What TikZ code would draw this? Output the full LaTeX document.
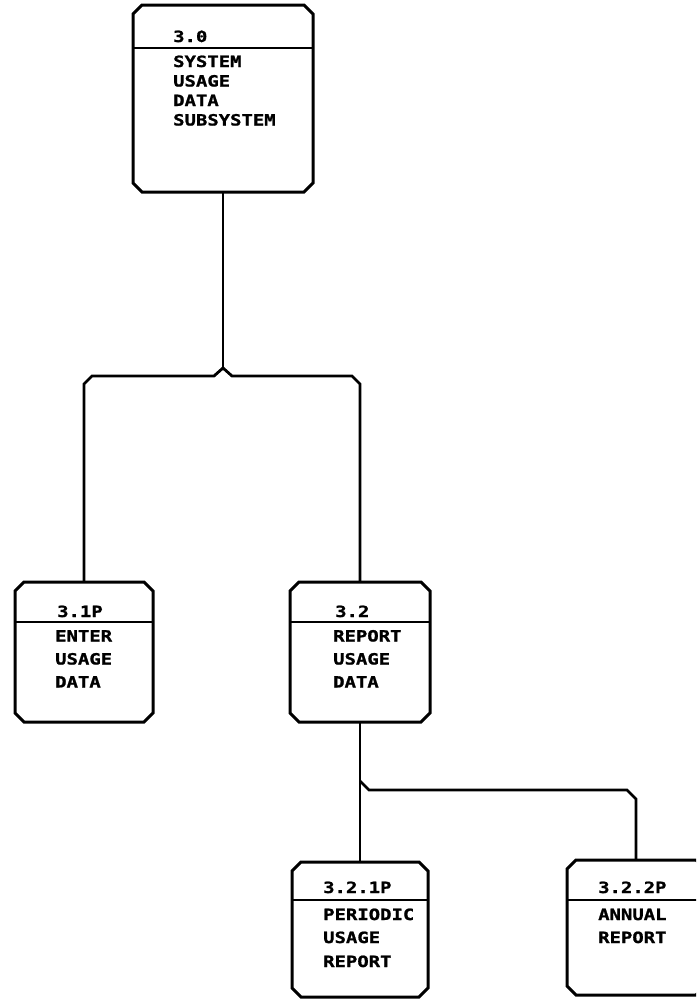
\documentclass[tikz,border=0pt]{standalone}
\usepackage{fontspec}
\newfontfamily\plotfont{DejaVu Sans Mono Bold}[FakeStretch=1.22,FakeBold=1.2]
\tikzset{
  box/.style={rectangle, draw=none, inner sep=0pt, outer sep=0pt},
  outline/.style={line width=3pt, line join=miter},
  lbl/.style={anchor=base west, inner sep=0pt,
    font=\plotfont\fontsize{15.5}{15.5}\selectfont},
  hdr/.style={line width=2.4pt},
  conn/.style={line width=2.8pt, line join=miter}
}
\newcommand\chambox[1]{%
  \draw[outline] ([xshift=9pt]#1.north west) -- ([xshift=-9pt]#1.north east)
    -- ([yshift=-9pt]#1.north east) -- ([yshift=9pt]#1.south east)
    -- ([xshift=-9pt]#1.south east) -- ([xshift=9pt]#1.south west)
    -- ([yshift=9pt]#1.south west) -- ([yshift=-9pt]#1.north west) -- cycle;}
\begin{document}
\begin{tikzpicture}[x=1pt,y=-1pt]
\clip (0,0) rectangle (696,1001);
\fill[white] (0,0) rectangle (696,1001);

% boxes
\node[box, minimum width=180pt, minimum height=187pt] (n30) at (223,98.5) {};
\node[box, minimum width=138pt, minimum height=140pt] (n31) at (84,652) {};
\node[box, minimum width=140pt, minimum height=140pt] (n32) at (360,652) {};
\node[box, minimum width=136pt, minimum height=135pt] (n321) at (360,929.5) {};
\node[box, minimum width=138pt, minimum height=135pt] (n322) at (636,927.5) {};
\chambox{n30}
\chambox{n31}
\chambox{n32}
\chambox{n321}
\chambox{n322}

% header lines
\draw[hdr] (n30.west |- 0,48) -- (n30.east |- 0,48);
\draw[hdr] (n31.west |- 0,622) -- (n31.east |- 0,622);
\draw[hdr] (n32.west |- 0,622) -- (n32.east |- 0,622);
\draw[hdr] (n321.west |- 0,900) -- (n321.east |- 0,900);
\draw[hdr] (n322.west |- 0,900) -- (n322.east |- 0,900);

% texts
\node[lbl] (t30a) at (173,42) {3.0};
\node[lbl] (t30b) at (173,67) {SYSTEM};
\node[lbl] (t30c) at (173,86.5) {USAGE};
\node[lbl] (t30d) at (173,106) {DATA};
\node[lbl] (t30e) at (173,125.5) {SUBSYSTEM};

\node[lbl] (t31a) at (57,617) {3.1P};
\node[lbl] (t31b) at (55,641.5) {ENTER};
\node[lbl] (t31c) at (55,664.5) {USAGE};
\node[lbl] (t31d) at (55,687.5) {DATA};

\node[lbl] (t32a) at (335,617) {3.2};
\node[lbl] (t32b) at (333,641.5) {REPORT};
\node[lbl] (t32c) at (333,664.5) {USAGE};
\node[lbl] (t32d) at (333,687.5) {DATA};

\node[lbl] (t321a) at (323,893) {3.2.1P};
\node[lbl] (t321b) at (323,920) {PERIODIC};
\node[lbl] (t321c) at (323,943) {USAGE};
\node[lbl] (t321d) at (323,967) {REPORT};

\node[lbl] (t322a) at (598,893) {3.2.2P};
\node[lbl] (t322b) at (598,920) {ANNUAL};
\node[lbl] (t322c) at (598,943) {REPORT};

% connectors
\coordinate (j1) at (223,368);
\coordinate (j2) at (360,781);
\draw[conn] (n30.south) -- (j1);
\draw[conn] (n31.north) -- (84,384) -- (92,376) -- (214,376) -- (j1)
  -- (232,376) -- (352,376) -- (360,384) -- (n32.north);
\draw[conn] (n32.south) -- (n321.north);
\draw[conn] (j2) -- (369,790) -- (627,790) -- (636,799) -- (n322.north);
\end{tikzpicture}
\end{document}
